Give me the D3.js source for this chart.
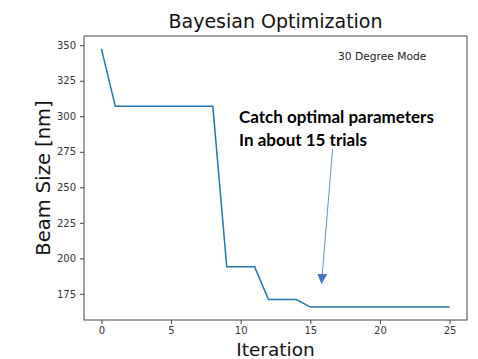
<!DOCTYPE html>
<html>
<head>
<meta charset="utf-8">
<script src="https://cdn.jsdelivr.net/npm/d3@7"></script>
<style>
  body { margin: 0; background: #fff; }
  .axis text { font-family: "DejaVu Sans", sans-serif; font-size: 10px; fill: #333; }
  .axis path, .axis line { stroke: #444; }
</style>
</head>
<body>
<div id="chart"></div>
<script>
// iteration index and best beam size so far
const iterations = d3.range(0, 26);
const beamSize = [347.4, 307, 307, 307, 307, 307, 307, 307, 307, 194, 194, 194,
  171, 171, 171, 165.7, 165.7, 165.7, 165.7, 165.7, 165.7, 165.7, 165.7, 165.7, 165.7, 165.7];
const xTicks = [0, 5, 10, 15, 20, 25];
const yTicks = [175, 200, 225, 250, 275, 300, 325, 350];
const noteLines = ['Catch optimal parameters', 'In about 15 trials'];
const arrowFrom = { x: 16.6, y: 277 };
const arrowTo = { x: 15.8, y: 182 };

const width = 478;
const height = 359;
const margin = { top: 36, right: 11, bottom: 39, left: 84 };

const svg = d3.select('#chart')
  .append('svg')
  .attr('width', width)
  .attr('height', height);

const defs = svg.append('defs');
defs.append('marker')
  .attr('id', 'head')
  .attr('viewBox', '0 0 10 10')
  .attr('refX', 10)
  .attr('refY', 5)
  .attr('markerWidth', 10)
  .attr('markerHeight', 10)
  .attr('markerUnits', 'userSpaceOnUse')
  .attr('orient', 'auto')
  .append('path')
  .attr('d', 'M0,0 L10,5 L0,10 Z')
  .attr('fill', '#4472c4');

const x = d3.scaleLinear()
  .domain([-1.25, 26.25])
  .range([margin.left, width - margin.right]);

const y = d3.scaleLinear()
  .domain([156.6, 356.5])
  .range([height - margin.bottom, margin.top]);

// frame
svg.append('rect')
  .attr('x', margin.left)
  .attr('y', margin.top)
  .attr('width', width - margin.right - margin.left)
  .attr('height', height - margin.bottom - margin.top)
  .attr('fill', 'none')
  .attr('stroke', '#444')
  .attr('stroke-width', 1);

const xAxis = d3.axisBottom(x)
  .tickValues(xTicks)
  .tickSize(4)
  .tickPadding(3);
svg.append('g')
  .attr('class', 'axis')
  .attr('transform', `translate(0,${height - margin.bottom})`)
  .call(xAxis)
  .call(g => g.select('.domain').remove());

const yAxis = d3.axisLeft(y)
  .tickValues(yTicks)
  .tickSize(4)
  .tickPadding(4);
svg.append('g')
  .attr('class', 'axis')
  .attr('transform', `translate(${margin.left},0)`)
  .call(yAxis)
  .call(g => g.select('.domain').remove());

// best-so-far curve
const line = d3.line()
  .x((d, i) => x(iterations[i]))
  .y(d => y(d));

svg.append('path')
  .datum(beamSize)
  .attr('d', line)
  .attr('fill', 'none')
  .attr('stroke', '#1f77b4')
  .attr('stroke-width', 1.5);

// title and labels
svg.append('text')
  .attr('x', (margin.left + width - margin.right) / 2)
  .attr('y', 28)
  .attr('text-anchor', 'middle')
  .style('font-family', '"DejaVu Sans", sans-serif')
  .style('font-size', '19px')
  .attr('fill', '#111')
  .text('Bayesian Optimization');

svg.append('text')
  .attr('x', (margin.left + width - margin.right) / 2)
  .attr('y', 355.5)
  .attr('text-anchor', 'middle')
  .style('font-family', '"DejaVu Sans", sans-serif')
  .style('font-size', '18.5px')
  .attr('fill', '#111')
  .text('Iteration');

svg.append('text')
  .attr('transform', `translate(50,${(margin.top + height - margin.bottom) / 2}) rotate(-90)`)
  .attr('text-anchor', 'middle')
  .style('font-family', '"DejaVu Sans", sans-serif')
  .style('font-size', '19.5px')
  .attr('fill', '#111')
  .text('Beam Size [nm]');

svg.append('text')
  .attr('x', 338)
  .attr('y', 60)
  .style('font-family', '"DejaVu Sans", sans-serif')
  .style('font-size', '10.7px')
  .attr('fill', '#222')
  .text('30 Degree Mode');

// annotation
svg.append('g')
  .selectAll('text')
  .data(noteLines)
  .join('text')
  .attr('x', 239)
  .attr('y', (d, i) => 123 + i * 23)
  .style('font-family', 'Lato, sans-serif')
  .style('font-weight', 'bold')
  .style('font-size', '17px')
  .attr('fill', '#000')
  .text(d => d);

svg.append('line')
  .attr('x1', x(arrowFrom.x))
  .attr('y1', y(arrowFrom.y))
  .attr('x2', x(arrowTo.x))
  .attr('y2', y(arrowTo.y))
  .attr('stroke', '#4472c4')
  .attr('stroke-width', 0.8)
  .attr('marker-end', 'url(#head)');
</script>
</body>
</html>
